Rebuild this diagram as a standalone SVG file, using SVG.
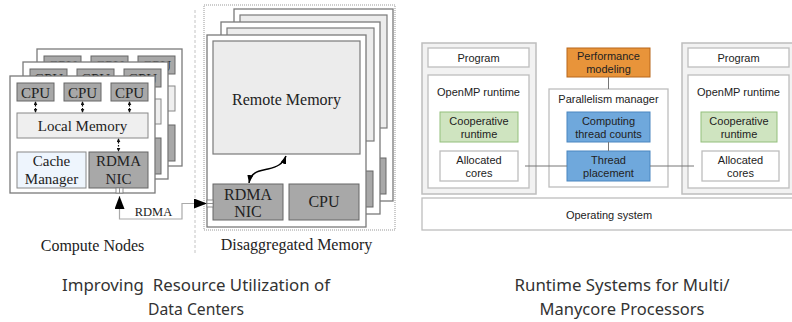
<svg xmlns="http://www.w3.org/2000/svg" width="792" height="322" viewBox="0 0 792 322">
<defs>
<style>
.card{fill:#fff;stroke:#7a7a7a;stroke-width:1.3}
.cpu{fill:#a8a8a8;stroke:#666;stroke-width:1}
.lmem{fill:#efefef;stroke:#888;stroke-width:1}
.cache{fill:#eef5fd;stroke:#888;stroke-width:1}
.rmem{fill:#ececec;stroke:#7a7a7a;stroke-width:1.2}
.serif{font-family:"Liberation Serif","Times New Roman",serif;fill:#222;text-anchor:middle}
.s15{font-size:15px}
.s16{font-size:16px}
.sans{font-family:"Liberation Sans",Arial,sans-serif;fill:#222;text-anchor:middle;font-size:11px}
.cap{font-family:"Noto Sans","Open Sans",sans-serif;fill:#333;text-anchor:middle;font-size:16px;white-space:pre}
.outer{fill:#f2f2f2;stroke:#bdbdbd;stroke-width:1.5}
.wbox{fill:#fff;stroke:#bdbdbd;stroke-width:1.3}
.green{fill:#cfe4c0;stroke:#93bf7c;stroke-width:1}
.blue{fill:#6fa8dc;stroke:#4a86c0;stroke-width:1}
.orange{fill:#e8943a;stroke:#b8661a;stroke-width:1}
.dash{stroke:#111;stroke-width:1.2;stroke-dasharray:1.5,1.5;fill:none}
.conn{stroke:#777;stroke-width:1;fill:none}
</style>
<marker id="sm" viewBox="0 0 6 6" refX="5" refY="3" markerWidth="4" markerHeight="4" orient="auto-start-reverse" markerUnits="userSpaceOnUse"><path d="M0,0 L6,3 L0,6 z" fill="#111"/></marker>
<marker id="big" viewBox="0 0 13 10" refX="13" refY="5" markerWidth="13" markerHeight="10" orient="auto-start-reverse" markerUnits="userSpaceOnUse"><path d="M0,0 L13,5 L0,10 z" fill="#000"/></marker>
<marker id="cur" viewBox="0 0 8 6" refX="8" refY="3" markerWidth="8" markerHeight="6" orient="auto-start-reverse" markerUnits="userSpaceOnUse"><path d="M0,0 L8,3 L0,6 z" fill="#000"/></marker>
</defs>
<rect width="792" height="322" fill="#fff"/>

<!-- Compute nodes -->
<g id="compute-node-3" transform="translate(37,49)">
<rect class="card" x="0" y="0" width="145" height="117"/>
<rect class="cpu" x="7" y="7" width="37" height="18"/><text class="serif s15" x="25.5" y="22">CPU</text>
<rect class="cpu" x="54" y="7" width="37" height="18"/><text class="serif s15" x="72.5" y="22">CPU</text>
<rect class="cpu" x="101" y="7" width="37" height="18"/><text class="serif s15" x="119.5" y="22">CPU</text>
<rect class="lmem" x="7" y="37" width="131" height="25"/>
<rect class="cache" x="7" y="76" width="69" height="36"/>
<rect class="cpu" x="79" y="76" width="59" height="36"/>
</g>
<g id="compute-node-2" transform="translate(23,62)">
<rect class="card" x="0" y="0" width="145" height="117"/>
<rect class="cpu" x="7" y="7" width="37" height="18"/><text class="serif s15" x="25.5" y="22">CPU</text>
<rect class="cpu" x="54" y="7" width="37" height="18"/><text class="serif s15" x="72.5" y="22">CPU</text>
<rect class="cpu" x="101" y="7" width="37" height="18"/><text class="serif s15" x="119.5" y="22">CPU</text>
<rect class="lmem" x="7" y="37" width="131" height="25"/>
<rect class="cache" x="7" y="76" width="69" height="36"/>
<rect class="cpu" x="79" y="76" width="59" height="36"/>
</g>
<g id="compute-node-1" transform="translate(10,76)">
<rect class="card" x="0" y="0" width="145" height="117"/>
<rect class="cpu" x="7" y="7" width="37" height="18"/><text class="serif s15" x="25.5" y="22">CPU</text>
<rect class="cpu" x="54" y="7" width="37" height="18"/><text class="serif s15" x="72.5" y="22">CPU</text>
<rect class="cpu" x="101" y="7" width="37" height="18"/><text class="serif s15" x="119.5" y="22">CPU</text>
<rect class="lmem" x="7" y="37" width="131" height="25"/>
<text class="serif s15" x="72.5" y="54.5">Local Memory</text>
<rect class="cache" x="7" y="76" width="69" height="36"/>
<text class="serif s15" x="41.5" y="90">Cache</text>
<text class="serif s15" x="41.5" y="108">Manager</text>
<rect class="cpu" x="79" y="76" width="59" height="36"/>
<text class="serif s15" x="108.5" y="90">RDMA</text>
<text class="serif s15" x="108.5" y="108">NIC</text>
<rect x="106" y="112" width="7" height="5" fill="#fff" stroke="#777" stroke-width="0.8"/>
<line x1="109.5" y1="112" x2="109.5" y2="117" stroke="#777" stroke-width="0.8"/>
</g>

<!-- Disaggregated memory -->
<rect id="disagg-frame" x="204" y="5" width="191" height="225" fill="none" stroke="#999" stroke-width="1" stroke-dasharray="1,1"/>
<g id="memory-node-3" transform="translate(234,9)">
<rect class="card" x="0" y="0" width="159" height="192"/>
<rect class="rmem" x="6" y="6" width="147" height="113"/>
<rect class="cpu" x="6" y="149" width="70" height="36"/>
<rect class="cpu" x="82" y="149" width="70" height="36"/>
</g>
<g id="memory-node-2" transform="translate(221,22)">
<rect class="card" x="0" y="0" width="159" height="192"/>
<rect class="rmem" x="6" y="6" width="147" height="113"/>
<rect class="cpu" x="6" y="149" width="70" height="36"/>
<rect class="cpu" x="82" y="149" width="70" height="36"/>
</g>
<g id="memory-node-1" transform="translate(207,35)">
<rect class="card" x="0" y="0" width="159" height="192"/>
<rect class="rmem" x="6" y="6" width="147" height="113"/>
<text class="serif s16" x="79.5" y="70">Remote Memory</text>
<rect class="cpu" x="6" y="149" width="70" height="36"/>
<text class="serif s16" x="41" y="165">RDMA</text>
<text class="serif s16" x="41" y="182">NIC</text>
<rect class="cpu" x="82" y="149" width="70" height="36"/>
<text class="serif s16" x="117" y="172">CPU</text>
<rect x="0" y="165" width="6" height="7" fill="#fff" stroke="#777" stroke-width="0.8"/>
<line x1="0" y1="168.5" x2="6" y2="168.5" stroke="#777" stroke-width="0.8"/>
</g>

<line id="separator" x1="195" y1="10" x2="195" y2="255" stroke="#c4c4c4" stroke-width="1" stroke-dasharray="3,2"/>

<!-- Left connectors -->
<g id="left-connectors">
<line class="dash" x1="35.5" y1="102" x2="35.5" y2="112" marker-start="url(#sm)" marker-end="url(#sm)"/>
<line class="dash" x1="82.5" y1="102" x2="82.5" y2="112" marker-start="url(#sm)" marker-end="url(#sm)"/>
<line class="dash" x1="129.5" y1="102" x2="129.5" y2="112" marker-start="url(#sm)" marker-end="url(#sm)"/>
<line class="dash" x1="118.5" y1="139" x2="118.5" y2="151" marker-start="url(#sm)" marker-end="url(#sm)"/>
<path d="M119.5,196 L119.5,219 L182,219 L182,203.5 L207,203.5" fill="none" stroke="#aaa" stroke-width="1.2" marker-start="url(#big)" marker-end="url(#big)"/>
<text class="serif" x="153.5" y="216" style="font-size:12.5px">RDMA</text>
<path d="M249,183 C251,171 260,171 268,169 C277,167 283,164 286,156" fill="none" stroke="#000" stroke-width="1.5" marker-start="url(#cur)" marker-end="url(#cur)"/>
</g>

<text class="serif s16" x="92.5" y="251">Compute Nodes</text>
<text class="serif s16" x="296.5" y="250">Disaggregated Memory</text>

<!-- Right diagram -->
<g id="os"><rect class="wbox" x="422" y="198" width="380" height="32"/><text class="sans" x="609" y="219">Operating system</text></g>
<g id="program-left">
<rect class="outer" x="422" y="43" width="114" height="151"/>
<rect class="wbox" x="428" y="48" width="101" height="19"/><text class="sans" x="478.5" y="61.5">Program</text>
<rect class="wbox" x="428" y="75" width="101" height="113"/><text class="sans" x="478.5" y="96">OpenMP runtime</text>
<rect class="green" x="440" y="112" width="78" height="30"/><text class="sans" x="479" y="124.5">Cooperative</text><text class="sans" x="479" y="138">runtime</text>
<rect class="wbox" x="440" y="151" width="78" height="30"/><text class="sans" x="479" y="163.5">Allocated</text><text class="sans" x="479" y="177">cores</text>
</g>
<g id="program-right">
<rect class="outer" x="682" y="43" width="120" height="151"/>
<rect class="wbox" x="688" y="48" width="101" height="19"/><text class="sans" x="738.5" y="61.5">Program</text>
<rect class="wbox" x="688" y="75" width="101" height="113"/><text class="sans" x="738.5" y="96">OpenMP runtime</text>
<rect class="green" x="701" y="112" width="76" height="30"/><text class="sans" x="739" y="124.5">Cooperative</text><text class="sans" x="739" y="138">runtime</text>
<rect class="wbox" x="702" y="151" width="77" height="30"/><text class="sans" x="740.5" y="163.5">Allocated</text><text class="sans" x="740.5" y="177">cores</text>
</g>
<g id="parallelism-manager">
<rect class="wbox" x="549" y="89" width="119" height="98"/><text class="sans" x="608.5" y="103">Parallelism manager</text>
</g>
<g id="performance-modeling"><rect class="orange" x="567" y="48" width="83" height="29"/><text class="sans" x="608.5" y="60">Performance</text><text class="sans" x="608.5" y="73">modeling</text></g>
<g id="computing-thread-counts"><rect class="blue" x="567" y="112" width="83" height="30"/><text class="sans" x="608.5" y="124.5">Computing</text><text class="sans" x="608.5" y="138">thread counts</text></g>
<g id="thread-placement"><rect class="blue" x="567" y="151" width="83" height="30"/><text class="sans" x="608.5" y="163.5">Thread</text><text class="sans" x="608.5" y="177">placement</text></g>
<g id="right-connectors">
<line class="conn" x1="525" y1="166" x2="567" y2="166"/>
<line class="conn" x1="650" y1="166" x2="694" y2="166"/>
<line class="conn" x1="608.5" y1="77" x2="608.5" y2="89"/>
<line class="conn" x1="608.5" y1="142" x2="608.5" y2="151"/>
</g>

<text class="cap" x="196" y="291" textLength="268" lengthAdjust="spacingAndGlyphs" xml:space="preserve">Improving  Resource Utilization of</text>
<text class="cap" x="196" y="315" textLength="96" lengthAdjust="spacingAndGlyphs">Data Centers</text>
<text class="cap" x="622" y="291" textLength="215" lengthAdjust="spacingAndGlyphs">Runtime Systems for Multi/</text>
<text class="cap" x="622" y="315" textLength="165" lengthAdjust="spacingAndGlyphs">Manycore Processors</text>
</svg>
